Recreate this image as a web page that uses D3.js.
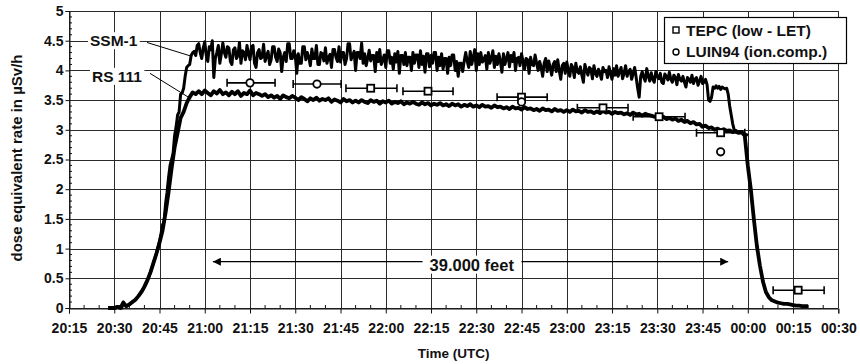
<!DOCTYPE html>
<html>
<head>
<meta charset="utf-8">
<script src="https://d3js.org/d3.v7.min.js"></script>
<style>
  body { margin: 0; background: #fff; }
  svg text { font-family: "Liberation Sans", Arial, Helvetica, sans-serif; font-weight: bold; fill: #111; }
</style>
</head>
<body>
<div id="chart-area"></div>
<script>

// time is in minutes after 20:00 UTC
let timeTicks = [15, 30, 45, 60, 75, 90, 105, 120, 135, 150, 165, 180, 195, 210, 225, 240, 255, 270];
let timeLabels = ["20:15", "20:30", "20:45", "21:00", "21:15", "21:30", "21:45", "22:00", "22:15",
                  "22:30", "22:45", "23:00", "23:15", "23:30", "23:45", "00:00", "00:15", "00:30"];
let doseTicks = [0, 0.5, 1, 1.5, 2, 2.5, 3, 3.5, 4, 4.5, 5];

// SSM-1, a reading every half minute starting at 20:28
let ssmStart = 28, ssmStep = 0.5;
let ssm1 = [
  0, 0, 0, 0, 0, 0, 0.01, 0.02, 0.01, 0,
  0.1, 0.05, 0.03, 0.04, 0.06, 0.08, 0.1, 0.12, 0.14, 0.17,
  0.2, 0.23, 0.27, 0.31, 0.36, 0.41, 0.47, 0.53, 0.6, 0.68,
  0.76, 0.84, 0.92, 1.02, 1.12, 1.25, 1.4, 1.45, 1.75, 1.95,
  2.2, 2.4, 2.5, 2.6, 2.9, 3.05, 3.25, 3.3, 3.6, 3.62,
  3.7, 3.9, 4.05, 4.08, 4.1, 4.25, 4.3, 4.32, 4.25, 4.42,
  4.45, 4.3, 4.2, 4.38, 4.48, 4.25, 4.15, 4.4, 4.35, 4.5,
  3.88, 4.2, 4.3, 4.42, 4.12, 4.28, 4.46, 4.3, 4.22, 4.4,
  4.38, 4.15, 4.1, 4.35, 4.38, 4.2, 4.25, 4.47, 4.12, 4.33,
  4.3, 4.18, 4.42, 4.28, 4.18, 4.4, 4.42, 4.12, 4.05, 4.3,
  4.35, 4.2, 4.22, 4.44, 4.15, 4.25, 4.32, 4.1, 4.18, 4.4,
  4.4, 4.22, 4.15, 4.36, 4.3, 3.98, 4.22, 4.3, 4.15, 4.45,
  4.45, 4.2, 4.2, 4.33, 4.25, 3.95, 4.28, 4.12, 4.12, 4.4,
  4.4, 4.18, 4.3, 4.22, 4.08, 4.36, 4.2, 4.2, 4.42, 4.1,
  4.1, 4.3, 4.28, 4.16, 4.38, 4.12, 4.22, 4.27, 4.05, 4.35,
  4.35, 4.22, 4.15, 4.4, 4.14, 4.3, 4.3, 4.1, 4.2, 4.45,
  4.45, 4.18, 4.25, 4.32, 4.0, 4.3, 4.3, 4.2, 4.46, 4.12,
  4.28, 4.08, 4.2, 4.34, 4.16, 4.25, 4.25, 3.98, 4.3, 4.15,
  4.35, 4.1, 4.18, 4.26, 4.05, 4.33, 4.33, 4.12, 4.22, 4.02,
  4.28, 4.14, 4.32, 3.95, 4.25, 4.25, 4.1, 4.3, 4.08, 4.22,
  4.22, 4.0, 4.3, 4.12, 4.26, 4.26, 4.05, 4.33, 4.1, 4.24,
  3.97, 4.28, 4.28, 4.06, 4.25, 4.12, 4.3, 4.3, 4.0, 4.22,
  4.08, 4.28, 4.02, 4.2, 4.2, 3.95, 4.22, 4.08, 4.26, 4.26,
  4.0, 4.15, 3.9, 4.12, 4.12, 3.98, 4.16, 4.3, 4.15, 4.05,
  4.32, 4.1, 4.22, 4.35, 4.0, 4.28, 4.1, 4.3, 4.14, 4.18,
  4.25, 4.02, 4.3, 4.12, 4.2, 4.33, 4.05, 4.24, 4.1, 4.28,
  4.15, 3.97, 4.28, 4.1, 4.2, 4.3, 4.06, 4.25, 4.15, 4.3,
  4.0, 4.2, 4.22, 4.08, 4.28, 4.15, 4.02, 4.2, 4.18, 3.95,
  4.22, 4.1, 4.08, 4.26, 4.12, 4.0, 4.15, 4.05, 3.9, 4.12,
  4.2, 3.98, 4.16, 4.05, 3.92, 4.1, 4.15, 3.98, 4.18, 4.0,
  3.85, 4.08, 4.12, 3.95, 4.14, 4.0, 3.9, 4.1, 4.05, 3.88,
  4.12, 3.98, 3.95, 4.06, 3.92, 3.8, 4.1, 4.0, 3.92, 4.05,
  4.02, 3.86, 4.08, 3.95, 3.9, 4.02, 3.95, 3.85, 4.05, 3.98,
  4.0, 3.88, 4.06, 3.95, 3.85, 4.03, 3.92, 4.08, 3.9, 3.98,
  4.05, 3.86, 3.95, 4.08, 3.9, 3.98, 4.02, 3.85, 3.95, 4.05,
  3.88, 3.7, 3.55, 3.9, 3.98, 3.88, 3.82, 4.03, 3.9, 3.82,
  3.96, 3.85, 3.8, 3.98, 3.9, 3.86, 3.95, 3.8, 3.78, 3.94,
  3.9, 3.84, 3.97, 3.85, 3.8, 3.92, 3.88, 3.76, 3.93, 3.85,
  3.82, 3.9, 3.8, 3.72, 3.88, 3.85, 3.8, 3.92, 3.78, 3.85,
  3.88, 3.75, 3.82, 3.9, 3.78, 3.8, 3.85, 3.76, 3.5, 3.48,
  3.55, 3.72, 3.7, 3.74, 3.7, 3.73, 3.68, 3.72, 3.7, 3.69,
  3.7, 3.6, 3.4, 3.25, 3.1, 3.0, 2.98, 2.95, 2.96, 2.97,
  2.97, 2.94, 2.93, 2.92, 2.9
];

// RS 111, one reading per minute starting at 20:28
let rsStart = 28, rsStep = 1;
let rs111 = [
  0, 0, 0, 0.02, 0, 0.09, 0.03, 0.06, 0.1, 0.14, 0.2, 0.27, 0.36, 0.47, 0.6, 0.76, 0.92, 1.1,
  1.3, 1.6, 1.95, 2.35, 2.7, 2.95, 3.2, 3.3, 3.45, 3.55, 3.63, 3.6,
  3.65, 3.6, 3.66, 3.62, 3.58, 3.65, 3.61, 3.67, 3.6, 3.63, 3.58, 3.64,
  3.6, 3.65, 3.57, 3.62, 3.6, 3.66, 3.58, 3.62, 3.6, 3.57,
  3.6, 3.55, 3.58, 3.54, 3.57, 3.52, 3.58, 3.55, 3.53, 3.57,
  3.54, 3.5, 3.55, 3.52, 3.48, 3.53, 3.5, 3.54, 3.49, 3.52,
  3.5, 3.53, 3.47, 3.51, 3.49, 3.46, 3.52, 3.48, 3.5, 3.46,
  3.49, 3.46, 3.5, 3.47, 3.45, 3.5, 3.47, 3.49, 3.44, 3.48,
  3.46, 3.49, 3.44, 3.47, 3.45, 3.48, 3.43, 3.46, 3.44, 3.47,
  3.44, 3.42, 3.46, 3.43, 3.45, 3.41, 3.44, 3.42, 3.45, 3.41,
  3.43, 3.4, 3.44, 3.41, 3.43, 3.39, 3.42, 3.4, 3.43, 3.39,
  3.41, 3.38, 3.42, 3.39, 3.4, 3.37, 3.41, 3.38, 3.39, 3.36,
  3.38, 3.35, 3.39, 3.36, 3.37, 3.34, 3.38, 3.35, 3.36, 3.33,
  3.35, 3.32, 3.36, 3.33, 3.34, 3.31, 3.35, 3.32, 3.33, 3.3,
  3.33, 3.3, 3.34, 3.31, 3.32, 3.29, 3.33, 3.3, 3.31, 3.28,
  3.31, 3.28, 3.32, 3.29, 3.3, 3.27, 3.3, 3.28, 3.29, 3.26,
  3.28, 3.25, 3.29, 3.26, 3.27, 3.24, 3.27, 3.25, 3.24, 3.22,
  3.23, 3.2, 3.22, 3.18, 3.2, 3.17, 3.19, 3.15, 3.17, 3.13,
  3.15, 3.11, 3.13, 3.09, 3.1, 3.05, 3.07, 3.03, 3.04, 3.0,
  3.02, 2.99, 3.01, 2.98, 2.99, 2.96, 2.98, 2.95, 2.96, 2.9,
  2.4, 2.0, 1.5, 1.05, 0.72, 0.45, 0.27, 0.18, 0.13, 0.11,
  0.09, 0.08, 0.07, 0.07, 0.06, 0.05, 0.04, 0.04, 0.03, 0.03, 0.03
];

// TEPC (low-LET), with time bars
let tepcTime = [115, 134, 165, 192, 210.6, 231, 256.7];
let tepcDose = [3.70, 3.65, 3.55, 3.37, 3.22, 2.95, 0.30];
let tepcFrom = [106.8, 125.7, 156.9, 183.5, 202, 223, 248.4];
let tepcTo   = [123.7, 142.3, 173.5, 200.3, 219.2, 239, 265.3];

// LUIN94 (ion chamber)
let luinTime = [75, 97.2, 165, 231];
let luinDose = [3.79, 3.77, 3.47, 2.63];
let luinFrom = [67.4, 89.3, null, null];
let luinTo   = [83.3, 105.2, null, null];

let width = 860,
    height = 364;

let svg = d3.select("#chart-area").append("svg")
    .attr("width", width)
    .attr("height", height);

let x = d3.scaleLinear().domain([15, 270]).range([69, 838.3]);
let y = d3.scaleLinear().domain([0, 5]).range([308, 11]);

// grid
let grid = svg.append("g").attr("stroke", "#2a2a2a").attr("stroke-width", 1);
grid.selectAll(".hgrid").data(doseTicks).enter().append("line")
  .attr("x1", x(15)).attr("x2", x(270))
  .attr("y1", d => Math.round(y(d)) + 0.5).attr("y2", d => Math.round(y(d)) + 0.5);
grid.selectAll(".vgrid").data(timeTicks).enter().append("line")
  .attr("y1", y(0)).attr("y2", y(5))
  .attr("x1", d => Math.round(x(d)) + 0.5).attr("x2", d => Math.round(x(d)) + 0.5);

// axes
let xAxis = d3.axisBottom(x).tickValues(timeTicks)
  .tickFormat((d, i) => timeLabels[i]).tickSize(5).tickPadding(10);
let gx = svg.append("g").attr("transform", "translate(0," + (Math.round(y(0)) + 0.5) + ")").call(xAxis);
let yAxis = d3.axisLeft(y).tickValues(doseTicks)
  .tickFormat(d => String(d)).tickSize(4).tickPadding(2);
let gy = svg.append("g").attr("transform", "translate(" + (Math.round(x(15)) + 0.5) + ",0)").call(yAxis);
[gx, gy].forEach(g => {
  g.select(".domain").attr("stroke", "#111");
  g.selectAll(".tick line").attr("stroke", "#111");
  g.selectAll("text").style("font-size", "14px").attr("fill", "#111");
});

// minor ticks
let minorX = d3.range(20, 270, 5).filter(d => d % 15 !== 0);
svg.append("g").selectAll("line").data(minorX).enter().append("line")
  .attr("x1", d => x(d)).attr("x2", d => x(d))
  .attr("y1", y(0)).attr("y2", y(0) - 3)
  .attr("stroke", "#111");
let minorY = d3.range(0.1, 5, 0.1).filter(d => Math.abs(d * 2 - Math.round(d * 2)) > 0.01);
svg.append("g").selectAll("line").data(minorY).enter().append("line")
  .attr("x1", x(15)).attr("x2", x(15) + 3)
  .attr("y1", d => y(d)).attr("y2", d => y(d))
  .attr("stroke", "#111");

// series
let line = d3.line().x(d => x(d.t)).y(d => y(d.v));
let ssmData = ssm1.map((v, i) => ({t: ssmStart + i * ssmStep, v: v}));
let rsData = rs111.map((v, i) => ({t: rsStart + i * rsStep, v: v}));

svg.append("path").datum(rsData)
  .attr("d", line).attr("fill", "none")
  .attr("stroke", "#000").attr("stroke-width", 3.8).attr("stroke-linejoin", "round");
svg.append("path").datum(ssmData)
  .attr("d", line).attr("fill", "none")
  .attr("stroke", "#000").attr("stroke-width", 3).attr("stroke-linejoin", "round");

// error bars + markers
function errorBars(times, dose, from, to) {
  let g = svg.append("g").attr("stroke", "#000").attr("stroke-width", 1.6);
  times.forEach((t, i) => {
    if (from[i] == null) return;
    let yy = y(dose[i]);
    g.append("line").attr("x1", x(from[i])).attr("x2", x(to[i])).attr("y1", yy).attr("y2", yy);
    g.append("line").attr("x1", x(from[i])).attr("x2", x(from[i])).attr("y1", yy - 4).attr("y2", yy + 4);
    g.append("line").attr("x1", x(to[i])).attr("x2", x(to[i])).attr("y1", yy - 4).attr("y2", yy + 4);
  });
}
errorBars(tepcTime, tepcDose, tepcFrom, tepcTo);
errorBars(luinTime, luinDose, luinFrom, luinTo);

svg.append("g").selectAll("rect").data(tepcTime).enter().append("rect")
  .attr("x", d => x(d) - 3.5).attr("y", (d, i) => y(tepcDose[i]) - 3.5)
  .attr("width", 7).attr("height", 7)
  .attr("fill", "#fff").attr("stroke", "#000").attr("stroke-width", 1.8);
svg.append("g").selectAll("circle").data(luinTime).enter().append("circle")
  .attr("cx", d => x(d)).attr("cy", (d, i) => y(luinDose[i]))
  .attr("r", 3.7)
  .attr("fill", "#fff").attr("stroke", "#000").attr("stroke-width", 1.8);

// text with a white box behind it
function boxedText(tx, ty, str, size, padX, padY, anchor) {
  let g = svg.append("g");
  let bg = g.append("rect").attr("fill", "#fff");
  let t = g.append("text").attr("x", tx).attr("y", ty)
    .attr("text-anchor", anchor || "start")
    .style("font-size", size + "px").text(str);
  let b = t.node().getBBox();
  bg.attr("x", b.x - padX).attr("y", b.y - padY)
    .attr("width", b.width + 2 * padX).attr("height", b.height + 2 * padY);
}

// flight level arrow
let arrowY = y(0.78);
svg.append("defs").append("marker").attr("id", "ah").attr("viewBox", "0 0 10 10")
  .attr("refX", 10).attr("refY", 5).attr("markerWidth", 11).attr("markerHeight", 8)
  .attr("markerUnits", "userSpaceOnUse").attr("orient", "auto-start-reverse")
  .append("path").attr("d", "M0,0 L10,5 L0,10 Z").attr("fill", "#000");
svg.append("line")
  .attr("x1", x(62.7)).attr("x2", x(233.5))
  .attr("y1", arrowY).attr("y2", arrowY)
  .attr("stroke", "#000").attr("stroke-width", 1.2)
  .attr("marker-start", "url(#ah)").attr("marker-end", "url(#ah)");
boxedText(x(148.5), arrowY + 9, "39.000 feet", 16.5, 7, 0, "middle");

// series labels with leader lines
svg.append("line").attr("x1", 147).attr("y1", y(4.47)).attr("x2", x(55.5)).attr("y2", y(4.24))
  .attr("stroke", "#000").attr("stroke-width", 1);
svg.append("line").attr("x1", 150).attr("y1", y(3.95)).attr("x2", x(55.5)).attr("y2", y(3.52))
  .attr("stroke", "#000").attr("stroke-width", 1);
boxedText(90, y(4.5) + 5.5, "SSM-1", 15.5, 2, 0);
boxedText(92, y(3.9) + 5.5, "RS 111", 15.5, 2, 0);

// legend
let lg = svg.append("g");
lg.append("rect").attr("x", 664.5).attr("y", 17.5).attr("width", 182).attr("height", 46)
  .attr("fill", "#fff").attr("stroke", "#000").attr("stroke-width", 1.2);
lg.append("rect").attr("x", 673).attr("y", 27).attr("width", 6).attr("height", 6)
  .attr("fill", "#fff").attr("stroke", "#000").attr("stroke-width", 1.4);
lg.append("circle").attr("cx", 676).attr("cy", 52).attr("r", 3)
  .attr("fill", "#fff").attr("stroke", "#000").attr("stroke-width", 1.4);
lg.append("text").attr("x", 686).attr("y", 36).style("font-size", "15.5px").text("TEPC (low - LET)");
lg.append("text").attr("x", 686).attr("y", 57).style("font-size", "15.5px").text("LUIN94 (ion.comp.)");

// axis titles
svg.append("text").attr("x", x(142.5)).attr("y", 358).attr("text-anchor", "middle")
  .style("font-size", "13.5px").text("Time (UTC)");
svg.append("text").attr("transform", "rotate(-90)")
  .attr("x", -158).attr("y", 22).attr("text-anchor", "middle")
  .style("font-size", "15px").text("dose equivalent rate in µSv/h");

</script>
</body>
</html>
